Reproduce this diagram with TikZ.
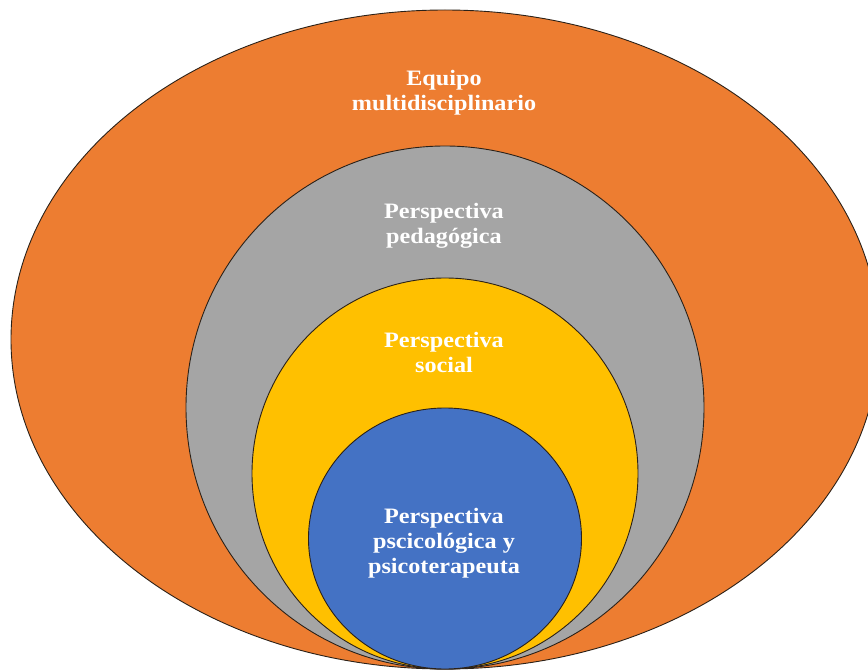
\documentclass[tikz,border=0pt]{standalone}
\usepackage{fontspec}
\setmainfont[FakeStretch=1.1]{Liberation Serif}
\usetikzlibrary{shapes.geometric}
\definecolor{orangeC}{HTML}{ED7D31}
\definecolor{grayC}{HTML}{A5A5A5}
\definecolor{yellowC}{HTML}{FFC000}
\definecolor{blueC}{HTML}{4472C4}
\definecolor{edgeC}{HTML}{2B2118}
\tikzset{
  ring/.style={ellipse, draw=edgeC, line width=0.9pt, inner sep=0pt, outer sep=0pt},
  lbl/.style={text=white, font=\fontsize{22}{25}\selectfont\bfseries, align=center, inner sep=0pt}
}
\begin{document}
\begin{tikzpicture}[x=1pt, y=-1pt]
\useasboundingbox (0,0) rectangle (868,671);
\clip (0,0) rectangle (868,671);
\node[ring, fill=orangeC, minimum width=868pt, minimum height=659pt] (equipo) at (445,339.5) {};
\node[ring, fill=grayC, minimum width=518pt, minimum height=523pt] (peda) at (445,407.5) {};
\node[ring, fill=yellowC, minimum width=386pt, minimum height=391pt] (social) at (445,473.5) {};
\node[ring, fill=blueC, minimum width=273pt, minimum height=261pt] (psico) at (445,538.5) {};
\node[lbl] (tequipo) at (444,93) {Equipo\\multidisciplinario};
\node[lbl] (tpeda) at (444,226) {Perspectiva\\pedagógica};
\node[lbl] (tsocial) at (444,352) {Perspectiva\\social};
\node[lbl] (tpsico) at (444,543) {Perspectiva\\pscicológica y\\psicoterapeuta};
\end{tikzpicture}
\end{document}
